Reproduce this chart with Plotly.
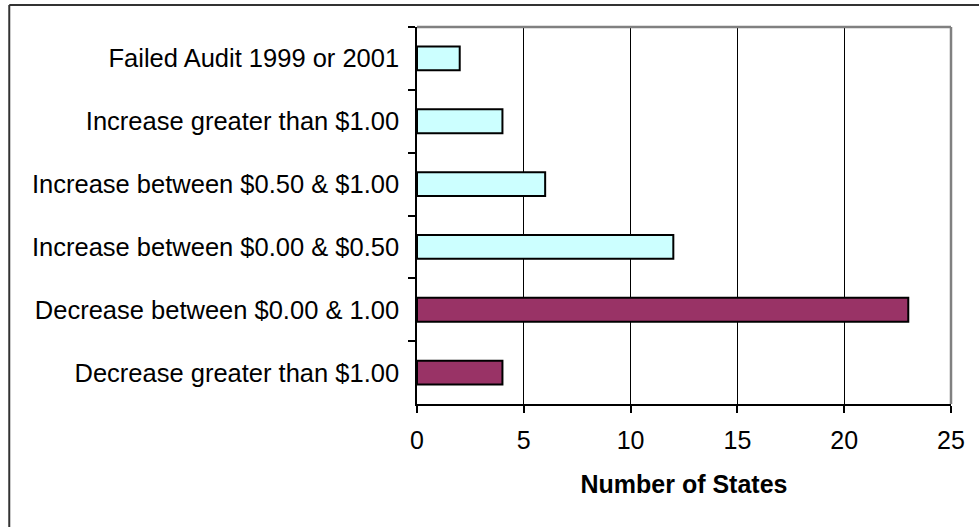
import plotly.graph_objects as go

categories = [
    "Failed Audit 1999 or 2001",
    "Increase greater than $1.00",
    "Increase between $0.50 & $1.00",
    "Increase between $0.00 & $0.50",
    "Decrease between $0.00 & 1.00",
    "Decrease greater than $1.00",
]
values = [2, 4, 6, 12, 23, 4]
bar_colors = ["#CCFFFF", "#CCFFFF", "#CCFFFF", "#CCFFFF", "#993366", "#993366"]

W, H = 979, 527
ml, mr, mt, mb = 416.5, 27.5, 27, 123
pw, ph = W - ml - mr, H - mt - mb

def px_to_paper_x(px):
    return (px - ml) / pw

def px_to_paper_y(py):
    return (H - mb - py) / ph

fig = go.Figure(
    go.Bar(
        x=values,
        y=categories,
        orientation="h",
        marker=dict(color=bar_colors, line=dict(color="black", width=2)),
        width=0.38,
    )
)

font = "Liberation Sans, Arial, sans-serif"

fig.update_layout(
    width=W,
    height=H,
    margin=dict(l=ml, r=mr, t=mt, b=mb, pad=0),
    paper_bgcolor="white",
    plot_bgcolor="white",
    showlegend=False,
    font=dict(family=font, size=25, color="black"),
    xaxis=dict(
        range=[0, 25],
        dtick=5,
        tick0=0,
        showgrid=True,
        gridcolor="black",
        gridwidth=1,
        zeroline=False,
        showline=True,
        linecolor="black",
        linewidth=1.5,
        ticks="outside",
        ticklen=7,
        tickcolor="black",
        tickwidth=1.5,
        tickfont=dict(family=font, size=25),
        ticklabelstandoff=6,
        title=dict(text="<b>Number of States</b>", font=dict(family=font, size=25), standoff=23),
    ),
    yaxis=dict(
        autorange="reversed",
        showgrid=False,
        zeroline=False,
        showline=True,
        linecolor="black",
        linewidth=1.5,
        ticks="outside",
        tickson="boundaries",
        ticklen=7,
        tickcolor="black",
        tickwidth=1.5,
        tickfont=dict(family=font, size=25.5),
        ticklabelstandoff=11,
    ),
    shapes=[
        dict(type="line", xref="paper", yref="paper", x0=0, x1=1, y0=1, y1=1,
             line=dict(color="#808080", width=2.5), layer="above"),
        dict(type="line", xref="paper", yref="paper", x0=1, x1=1, y0=0, y1=1,
             line=dict(color="#808080", width=2.5), layer="above"),
        dict(type="line", xref="paper", yref="paper",
             x0=px_to_paper_x(8), x1=px_to_paper_x(990),
             y0=px_to_paper_y(5), y1=px_to_paper_y(5),
             line=dict(color="#333333", width=2), layer="above"),
        dict(type="line", xref="paper", yref="paper",
             x0=px_to_paper_x(8), x1=px_to_paper_x(8),
             y0=px_to_paper_y(5), y1=px_to_paper_y(540),
             line=dict(color="#333333", width=2), layer="above"),
    ],
)

fig.write_html("out.html")
